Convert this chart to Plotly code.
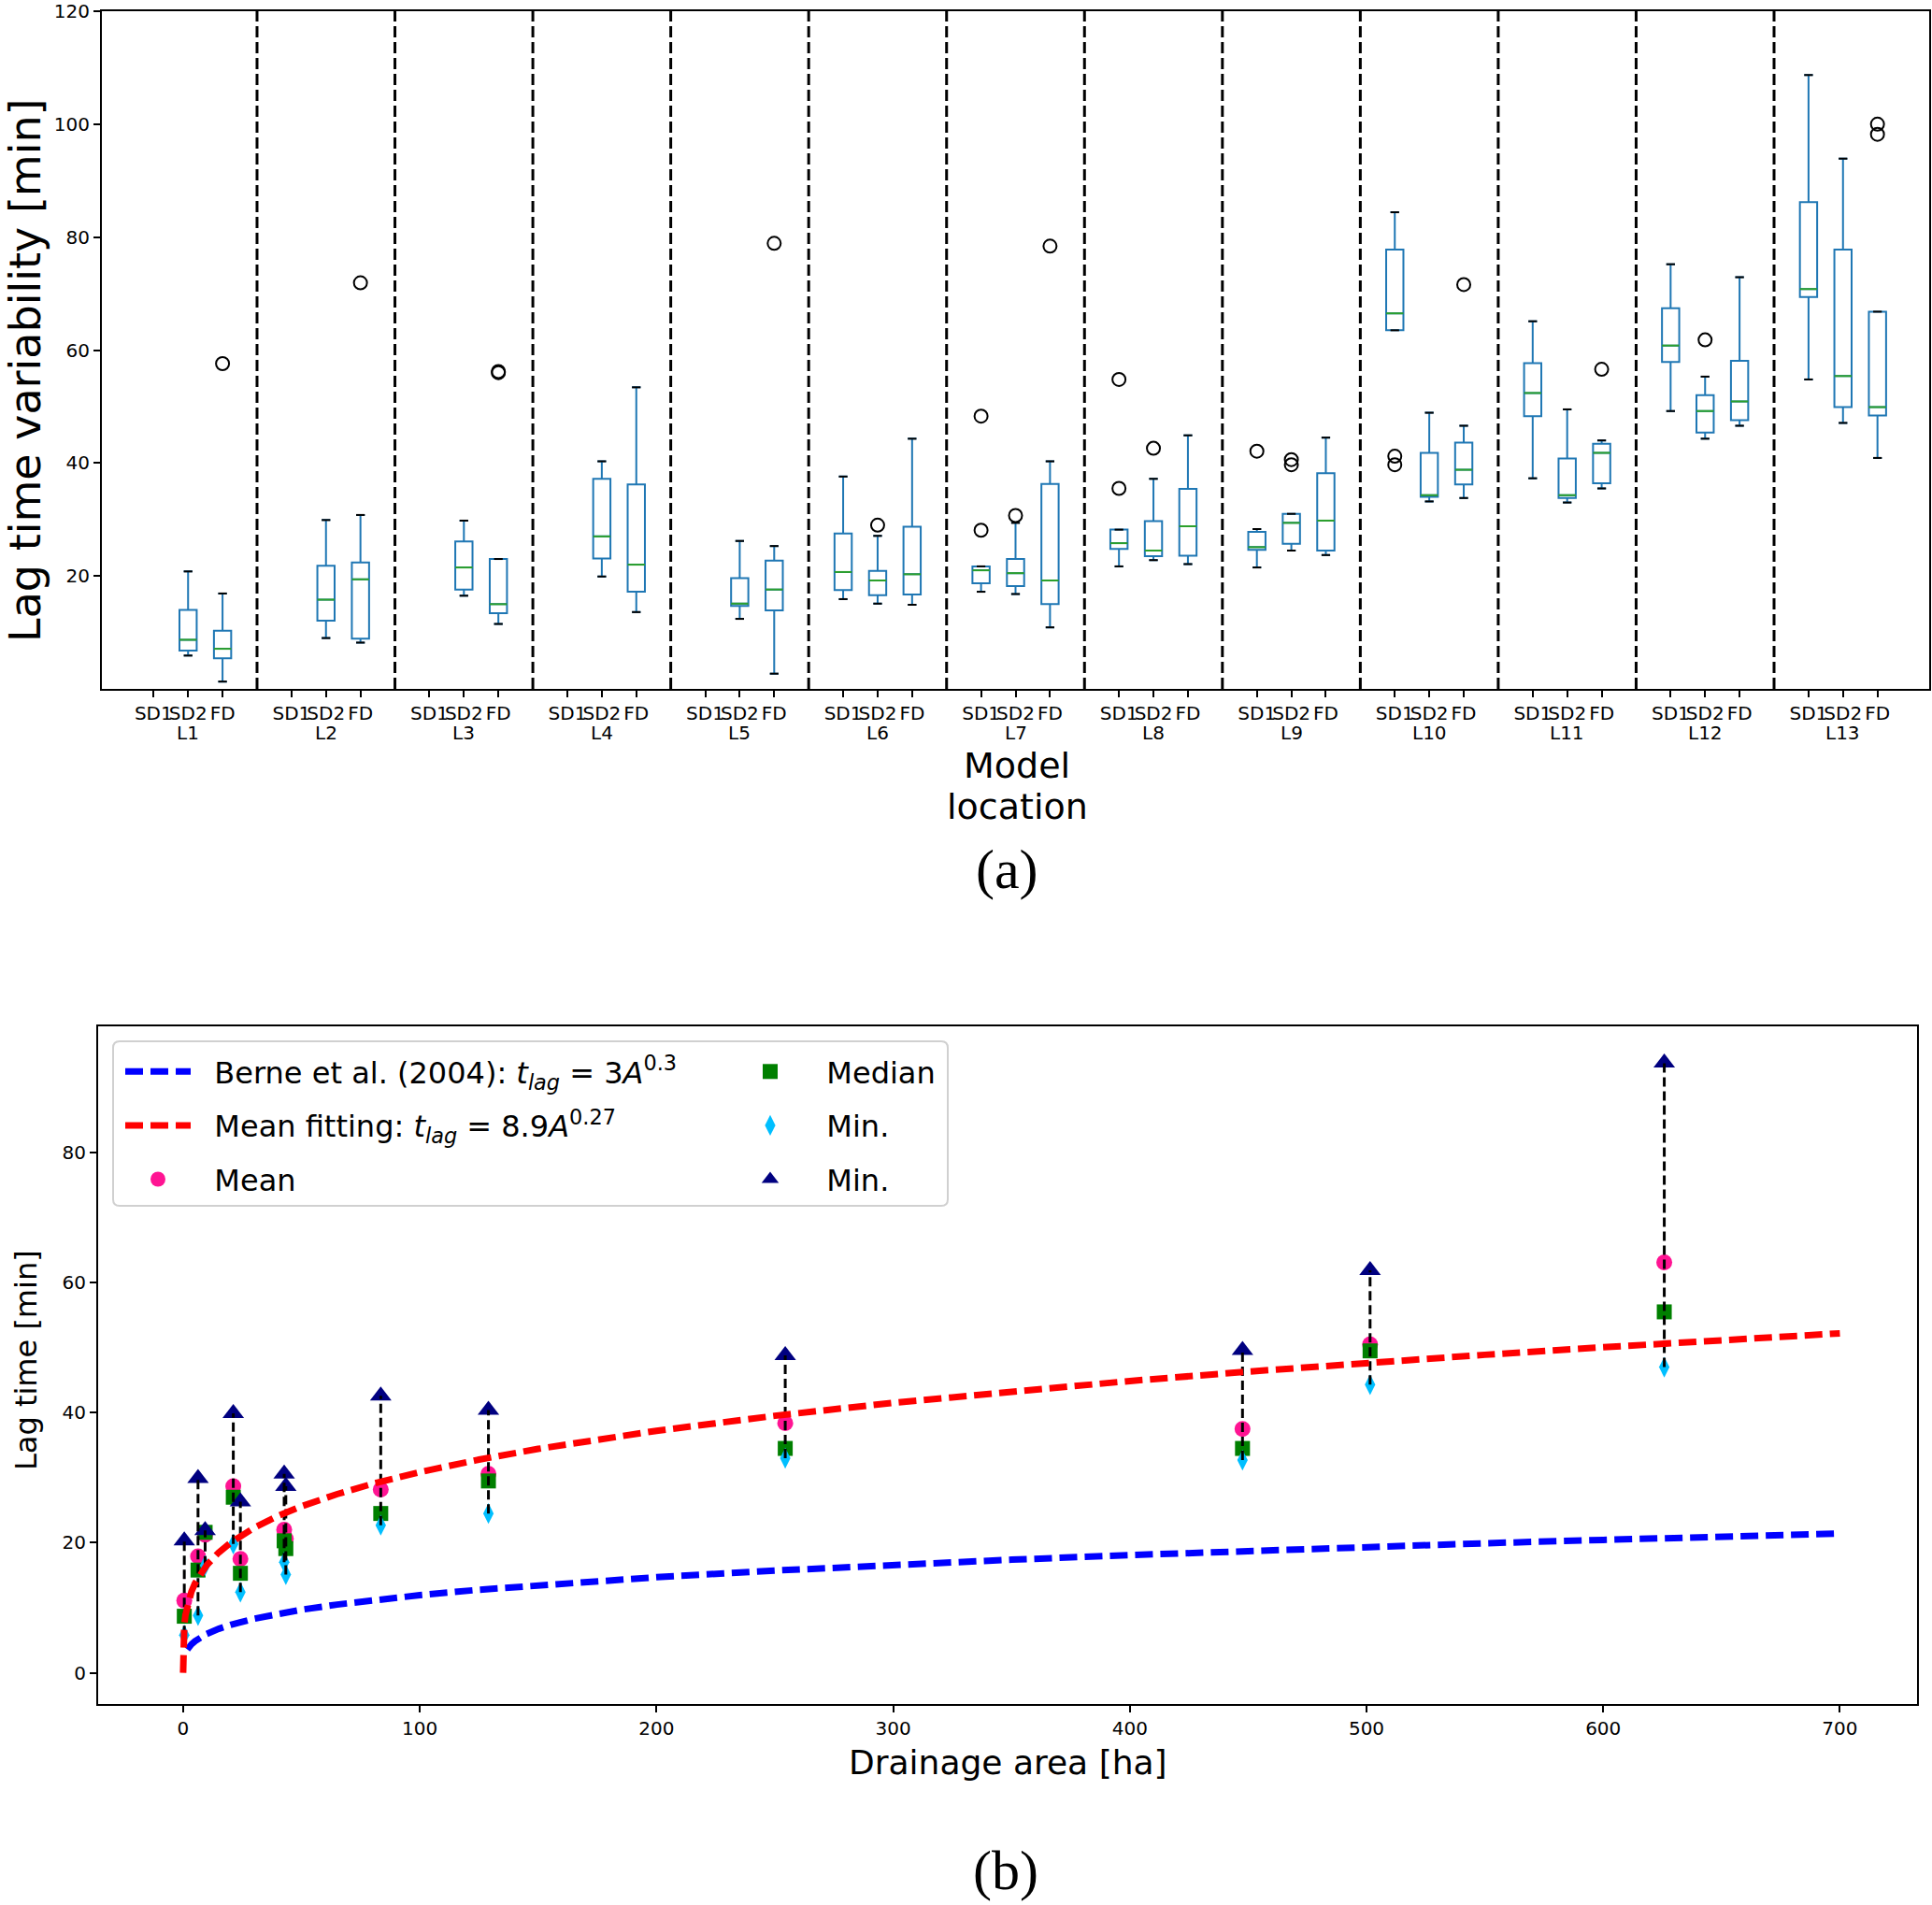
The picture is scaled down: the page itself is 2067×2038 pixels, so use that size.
import plotly.graph_objects as go

#figure size in px (same as the reference picture)
W = 2067
H = 2038

#panel (a): lag time variability per location and scenario
locations = ['L1', 'L2', 'L3', 'L4', 'L5', 'L6', 'L7', 'L8', 'L9', 'L10', 'L11', 'L12', 'L13']
scenarios = ['SD1', 'SD2', 'FD']

#one entry per drawn box (SD1 missing for L1-L5)
box_loc = [0, 0, 1, 1, 2, 2, 3, 3, 4, 4,
           5, 5, 5, 6, 6, 6, 7, 7, 7, 8, 8, 8,
           9, 9, 9, 10, 10, 10, 11, 11, 11, 12, 12, 12]
box_scen = [1, 2, 1, 2, 1, 2, 1, 2, 1, 2,
            0, 1, 2, 0, 1, 2, 0, 1, 2, 0, 1, 2,
            0, 1, 2, 0, 1, 2, 0, 1, 2, 0, 1, 2]
box_low = [5.9, 1.3, 9.0, 8.2, 16.5, 11.5, 19.9, 13.6, 12.4, 2.7,
           15.9, 15.1, 14.9, 17.2, 16.8, 10.9, 21.7, 22.8, 22.1, 21.5, 24.5, 23.7,
           63.5, 33.2, 33.8, 37.3, 33.0, 35.5, 49.2, 44.3, 46.6, 54.8, 47.1, 40.9]
box_q1 = [6.8, 5.4, 12.1, 8.9, 17.6, 13.4, 23.1, 17.2, 14.7, 13.9,
          17.5, 16.6, 16.7, 18.7, 18.2, 15.0, 24.8, 23.5, 23.6, 24.6, 25.7, 24.5,
          63.5, 34.0, 36.2, 48.3, 33.8, 36.4, 57.9, 45.4, 47.6, 69.4, 49.9, 48.4]
box_med = [8.7, 7.1, 15.8, 19.4, 21.5, 15.0, 27.0, 22.0, 15.1, 17.6,
           20.7, 19.2, 20.3, 21.0, 20.5, 19.2, 25.8, 24.5, 28.8, 25.1, 29.4, 29.8,
           66.5, 34.3, 38.8, 52.4, 34.3, 41.8, 60.8, 49.2, 50.9, 70.8, 55.4, 49.9]
box_q3 = [14.0, 10.3, 21.8, 22.4, 26.1, 23.0, 37.2, 36.2, 19.6, 22.7,
          27.5, 20.9, 28.7, 21.7, 23.0, 36.3, 28.2, 29.7, 35.4, 27.8, 31.0, 38.2,
          77.8, 41.8, 43.6, 57.7, 40.8, 43.4, 67.4, 52.0, 58.1, 86.2, 77.8, 66.8]
box_high = [20.8, 16.9, 29.9, 30.8, 29.8, 23.0, 40.3, 53.4, 26.2, 25.3,
            37.6, 27.1, 44.3, 21.7, 29.4, 40.3, 28.2, 37.2, 44.9, 28.3, 31.0, 44.5,
            84.4, 48.9, 46.6, 65.1, 49.5, 44.0, 75.2, 55.3, 72.9, 108.7, 93.9, 66.8]

#outliers (location index, scenario index, value)
out_loc = [0, 1, 2, 2, 4, 5, 6, 6, 6, 6, 7, 7, 7, 8, 8, 8, 9, 9, 9, 10, 11, 12, 12]
out_scen = [2, 2, 2, 2, 2, 1, 0, 0, 1, 2, 0, 0, 1, 0, 1, 1, 0, 0, 2, 2, 1, 2, 2]
out_val = [57.6, 71.9, 56.0, 56.2, 78.9, 29.0, 48.3, 28.1, 30.7, 78.4, 54.8, 35.5, 42.6,
           42.1, 40.6, 39.7, 41.2, 39.7, 71.6, 56.6, 61.8, 100.0, 98.2]

#panel (b): lag time vs drainage area
area = [0.5, 6.3, 9.3, 21.2, 24.2, 42.7, 43.4, 83.5, 129.0, 254.4, 447.6, 501.5, 625.8]
lag_mean = [11.1, 17.9, 21.2, 28.7, 17.5, 22.0, 20.6, 28.2, 30.6, 38.4, 37.5, 50.5, 63.1]
lag_median = [8.7, 15.8, 21.6, 27.0, 15.3, 20.3, 19.1, 24.5, 29.5, 34.5, 34.5, 49.5, 55.5]
lag_min = [5.8, 8.8, 16.5, 19.8, 12.4, 17.0, 15.1, 22.7, 24.5, 33.0, 32.7, 44.3, 47.0]
lag_max = [20.3, 29.9, 21.9, 39.9, 26.3, 30.6, 28.7, 42.6, 40.4, 48.8, 49.6, 61.9, 93.8]

#curves
fit_area = [0, 0.2, 0.5, 1, 2, 3.5, 5, 7.5, 10, 15, 20, 30, 40, 50, 65, 80, 100, 125, 150,
            200, 250, 300, 350, 400, 450, 500, 550, 600, 650, 700]
fit_lag = [0, 5.76, 7.38, 8.9, 10.73, 12.48, 13.74, 15.33, 16.57, 18.49, 19.98, 22.3, 24.1,
           25.6, 27.47, 29.06, 30.86, 32.78, 34.43, 37.21, 39.52, 41.52, 43.28, 44.87, 46.32,
           47.66, 48.9, 50.06, 51.15, 52.19]
berne_area = [1.8, 2, 3.5, 5, 7.5, 10, 15, 20, 30, 40, 50, 65, 80, 100, 125, 150,
              200, 250, 300, 350, 400, 450, 500, 550, 600, 650, 700]
berne_lag = [3.58, 3.69, 4.37, 4.86, 5.49, 5.99, 6.76, 7.37, 8.32, 9.07, 9.7, 10.49, 11.17,
             11.94, 12.77, 13.49, 14.7, 15.72, 16.61, 17.39, 18.1, 18.75, 19.36, 19.92,
             20.44, 20.94, 21.41]

FONT = 'DejaVu Sans'
SERIF = 'Liberation Serif'
PAD = '\u00a0\u00a0'  #small gap between legend symbol and text


#pixel helpers (reference picture coordinates -> paper)
def px(x):
	return x / W


def py(y):
	return 1 - y / H


#x position of each scenario inside a location group
def pos(loc, scen):
	return 4 * loc + scen


box_x = [pos(l, s) for l, s in zip(box_loc, box_scen)]
out_x = [pos(l, s) for l, s in zip(out_loc, out_scen)]

traces = []

#boxes with whiskers
traces.append(go.Box(
	x=box_x, q1=box_q1, median=box_med, q3=box_q3,
	lowerfence=box_low, upperfence=box_high,
	width=0.5, whiskerwidth=0.5,
	line=dict(color='#1f77b4', width=2),
	fillcolor='rgba(0,0,0,0)',
	boxpoints=False, hoverinfo='skip', showlegend=False,
	xaxis='x', yaxis='y'))

#median lines (green) and caps (black) drawn on top of the boxes
med_x, med_y, cap_x, cap_y = [], [], [], []
for x, m, lo, hi in zip(box_x, box_med, box_low, box_high):
	med_x += [x - 0.25, x + 0.25, None]
	med_y += [m, m, None]
	for v in (lo, hi):
		cap_x += [x - 0.125, x + 0.125, None]
		cap_y += [v, v, None]

traces.append(go.Scatter(x=med_x, y=med_y, mode='lines', line=dict(color='#2ca02c', width=2),
	showlegend=False, hoverinfo='skip', xaxis='x', yaxis='y'))
traces.append(go.Scatter(x=cap_x, y=cap_y, mode='lines', line=dict(color='black', width=2),
	showlegend=False, hoverinfo='skip', xaxis='x', yaxis='y'))

#outliers
traces.append(go.Scatter(x=out_x, y=out_val, mode='markers',
	marker=dict(symbol='circle-open', size=14, color='black', line=dict(width=2)),
	showlegend=False, hoverinfo='skip', xaxis='x', yaxis='y'))

#panel (b) markers
traces.append(go.Scatter(x=area, y=lag_mean, mode='markers', name=PAD + 'Mean',
	marker=dict(symbol='circle', size=17, color='#ff1493'),
	legend='legend', legendgroup='mean', legendrank=3, xaxis='x2', yaxis='y2'))
traces.append(go.Scatter(x=area, y=lag_median, mode='markers', name=PAD + 'Median',
	marker=dict(symbol='square', size=16, color='#008000'),
	legend='legend2', legendgroup='median', legendrank=1, xaxis='x2', yaxis='y2'))
traces.append(go.Scatter(x=area, y=lag_min, mode='markers', name=PAD + 'Min.',
	marker=dict(symbol='diamond-tall', size=16, color='#00bfff'),
	legend='legend2', legendgroup='min', legendrank=2, xaxis='x2', yaxis='y2'))
traces.append(go.Scatter(x=area, y=lag_max, mode='markers', name=PAD + 'Min.',
	marker=dict(symbol='triangle-up', size=20, color='#000080'),
	legend='legend2', legendgroup='max', legendrank=3, xaxis='x2', yaxis='y2'))

#dashed ranges min -> max
rng_x, rng_y = [], []
for a, lo, hi in zip(area, lag_min, lag_max):
	rng_x += [a, a, None]
	rng_y += [lo, hi, None]
traces.append(go.Scatter(x=rng_x, y=rng_y, mode='lines',
	line=dict(color='black', width=3, dash='10px,5px'),
	showlegend=False, hoverinfo='skip', xaxis='x2', yaxis='y2'))

#curves
traces.append(go.Scatter(x=berne_area, y=berne_lag, mode='lines',
	name=PAD + 'Berne et al. (2004): <i>t</i><sub><i>lag</i></sub> = 3<i>A</i><sup>0.3</sup>',
	line=dict(color='#0000ff', width=7, dash='19px,8px'),
	legend='legend', legendgroup='berne', legendrank=1, xaxis='x2', yaxis='y2'))
traces.append(go.Scatter(x=fit_area, y=fit_lag, mode='lines',
	name=PAD + 'Mean fitting: <i>t</i><sub><i>lag</i></sub> = 8.9<i>A</i><sup>0.27</sup>',
	line=dict(color='#ff0000', width=7, dash='19px,8px'),
	legend='legend', legendgroup='fit', legendrank=2, xaxis='x2', yaxis='y2'))

fig = go.Figure(data=traces)

#axis styling shared by both panels
axis_style = dict(
	showline=True, mirror=True, linecolor='black', linewidth=2,
	ticks='outside', ticklen=7, tickwidth=1.7, tickcolor='black',
	showgrid=False, zeroline=False, automargin=False, ticklabeloverflow='allow',
	tickfont=dict(family=FONT, size=20, color='black'))

tick_pos = [pos(l, s) for l in range(len(locations)) for s in range(3)]
tick_txt = [scenarios[s] for l in range(len(locations)) for s in range(3)]

legend_style = dict(xanchor='left', yanchor='top', bgcolor='rgba(0,0,0,0)', borderwidth=0,
	itemwidth=70, font=dict(family=FONT, size=32, color='black'),
	traceorder='grouped', tracegroupgap=13)

fig.update_layout(
	width=W, height=H,
	margin=dict(l=0, r=0, t=0, b=0),
	paper_bgcolor='white', plot_bgcolor='white',
	font=dict(family=FONT, color='black'),
	xaxis=dict(axis_style, domain=[px(109), px(2064)], range=[-1.5, 51.5],
		tickmode='array', tickvals=tick_pos, ticktext=tick_txt, tickangle=0, anchor='y'),
	yaxis=dict(axis_style, domain=[py(737), py(12)], range=[0, 120],
		tickmode='array', tickvals=[20, 40, 60, 80, 100, 120], anchor='x'),
	xaxis2=dict(axis_style, domain=[px(105), px(2051)], range=[-35.9, 732.6],
		tickmode='array', tickvals=[0, 100, 200, 300, 400, 500, 600, 700], anchor='y2'),
	yaxis2=dict(axis_style, domain=[py(1823), py(1098)], range=[-4.8, 99.4],
		tickmode='array', tickvals=[0, 20, 40, 60, 80], anchor='x2'),
	legend=dict(legend_style, x=px(129), y=py(1119)),
	legend2=dict(legend_style, x=px(784), y=py(1119)),
	showlegend=True,
)

#dashed separators between locations
for g in range(len(locations) - 1):
	fig.add_shape(type='line', xref='x', yref='y', x0=4 * g + 3, x1=4 * g + 3, y0=0, y1=120,
		line=dict(color='black', width=3, dash='12px,5px'))

#legend frame (rounded box around both legend columns)
x0, x1, y0, y1 = px(121), px(1014), py(1290), py(1114)
rx, ry = 7 / W, 7 / H
frame = ('M {a},{b} L {c},{b} Q {x1},{b} {x1},{d} L {x1},{e} Q {x1},{y0} {c},{y0} '
	'L {a},{y0} Q {x0},{y0} {x0},{e} L {x0},{d} Q {x0},{b} {a},{b} Z').format(
	a=x0 + rx, c=x1 - rx, b=y1, d=y1 - ry, e=y0 + ry, x0=x0, x1=x1, y0=y0)
fig.add_shape(type='path', path=frame, xref='paper', yref='paper', layer='above',
	fillcolor='rgba(255,255,255,0.8)', line=dict(color='#d0d0d0', width=2))

#location labels under the scenario ticks
for g, name in enumerate(locations):
	fig.add_annotation(x=pos(g, 1), y=py(784), xref='x', yref='paper', text=name,
		showarrow=False, font=dict(family=FONT, size=20), xanchor='center', yanchor='middle')

#titles
texts = [
	('Lag time variability [min]', 27, 396, 46, FONT, -90),
	('Model', 1088, 819, 38, FONT, 0),
	('location', 1088, 863, 38, FONT, 0),
	('(a)', 1077, 930, 60, SERIF, 0),
	('Lag time [min]', 28, 1455, 32, FONT, -90),
	('Drainage area [ha]', 1078, 1885, 36, FONT, 0),
	('(b)', 1076, 2001, 60, SERIF, 0),
]
for t, x, y, size, family, angle in texts:
	fig.add_annotation(x=px(x), y=py(y), xref='paper', yref='paper', text=t, showarrow=False,
		textangle=angle, font=dict(family=family, size=size, color='black'),
		xanchor='center', yanchor='middle')

fig.write_html('out.html', config={'displayModeBar': False},
	post_script="document.body.style.margin='0';")
